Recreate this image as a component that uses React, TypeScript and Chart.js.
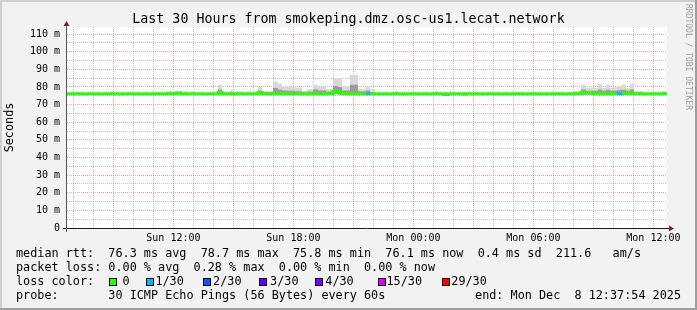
import React, { useEffect, useRef } from 'react';
import { Chart, registerables } from 'chart.js';

Chart.register(...registerables);

// ---------------- data ----------------
// minutes since graph start (Sun ~06:41, 30 h span); each value holds until the next entry
const sampleMinutes = [
  0, 129, 138, 297, 330, 342, 351, 363, 372, 384,
  453, 465, 474, 489, 498, 513, 525, 540, 549, 573,
  585, 618, 633, 645, 657, 684, 705, 720, 738, 753,
  777, 798, 813, 825, 849, 873, 897, 909, 924, 978,
  993, 1098, 1113, 1125, 1149, 1185, 1200, 1518, 1542, 1557,
  1578, 1593, 1605, 1617, 1629, 1644, 1650, 1665, 1677, 1689,
  1701, 1725, 1785, 1797, 1800,
];
// median rtt (ms)
const medianRtt = [
  76.1, 76.1, 76.1, 76.1, 76.5, 76.1, 76.1, 76.1, 76.1, 76.1,
  76.8, 76.1, 76.1, 76.1, 76.1, 76.1, 76.1, 76.1, 76.1, 76.8,
  76.1, 76.1, 76.3, 76.1, 76.1, 76.1, 76.1, 76.1, 76.1, 76.1,
  76.1, 77.5, 76.8, 76.1, 76.2, 76.1, 76.1, 76.1, 76.1, 76.1,
  76.1, 76.1, 76.1, 76.1, 76.1, 76.1, 76.1, 76.1, 76.8, 76.8,
  76.1, 76.1, 76.1, 76.1, 76.1, 76.1, 76.1, 76.7, 76.7, 76.1,
  76.1, 76.1, 76.1, 76.1, 76.1,
];
// slowest ping (top of the smoke, ms)
const pingMax = [
  76.6, 77.6, 76.6, 77.7, 77.7, 76.6, 77.5, 76.6, 77.5, 76.6,
  81.2, 77.5, 76.6, 78.4, 77.3, 77.4, 76.6, 77.4, 76.6, 80.3,
  77.8, 83.1, 81.8, 80.3, 79.9, 79.7, 77.8, 78.8, 81.2, 80.3,
  78.8, 85.0, 85.0, 80.3, 86.9, 79.0, 80.3, 78.8, 76.6, 77.6,
  76.6, 77.6, 76.6, 76.6, 76.6, 76.6, 76.6, 77.8, 81.2, 79.4,
  79.4, 81.8, 79.5, 81.2, 79.4, 79.9, 80.7, 81.2, 79.4, 81.8,
  77.8, 76.6, 77.8, 76.6, 76.6,
];
// upper part of the dense smoke (ms)
const pingUpper = [
  76.3, 76.8, 76.3, 76.8, 77.0, 76.3, 76.7, 76.3, 76.7, 76.3,
  78.5, 76.6, 76.3, 77.2, 76.6, 76.6, 76.3, 76.6, 76.3, 78.0,
  76.8, 79.4, 78.6, 78.0, 77.8, 77.6, 76.8, 77.4, 78.5, 78.0,
  77.4, 80.5, 80.0, 78.0, 81.2, 77.5, 78.0, 77.2, 76.3, 76.8,
  76.3, 76.8, 76.3, 76.3, 76.3, 76.3, 76.3, 76.8, 78.5, 77.8,
  77.8, 78.6, 77.8, 78.4, 77.8, 77.9, 78.2, 78.4, 77.8, 78.6,
  76.8, 76.3, 76.8, 76.3, 76.3,
];
// fastest ping (bottom of the smoke, ms)
const pingMin = [
  75.7, 75.7, 75.7, 75.7, 75.8, 75.7, 75.7, 75.7, 75.7, 75.7,
  75.6, 75.7, 75.7, 75.7, 75.7, 75.7, 75.7, 75.7, 75.7, 75.6,
  75.7, 75.6, 75.6, 75.6, 75.7, 75.7, 75.7, 75.7, 75.6, 75.6,
  75.7, 75.8, 75.6, 75.6, 75.5, 75.6, 75.6, 75.7, 75.7, 75.7,
  75.7, 75.7, 75.7, 74.8, 75.7, 75.1, 75.7, 75.7, 75.6, 75.6,
  75.6, 75.6, 75.6, 75.6, 75.6, 75.6, 75.6, 75.6, 75.6, 75.6,
  75.7, 75.7, 75.7, 75.7, 75.7,
];
// lost pings out of 30
const lossCount = [
  0, 0, 0, 0, 0, 0, 0, 0, 0, 0,
  0, 0, 0, 0, 0, 0, 0, 0, 0, 0,
  0, 0, 0, 0, 0, 0, 0, 0, 0, 0,
  0, 0, 0, 0, 0, 0, 1, 0, 0, 0,
  0, 0, 0, 0, 0, 0, 0, 0, 0, 0,
  0, 0, 0, 0, 0, 0, 1, 0, 0, 0,
  0, 0, 0, 0, 0,
];

const lossLegendLabels = ['0', '1/30', '2/30', '3/30', '4/30', '15/30', '29/30'];
const lossLegendThresholds = [0, 1, 2, 3, 4, 15, 29];
const lossLegendColors = ['#26ff00', '#00b8ff', '#0059ff', '#5e00ff', '#7e00ff', '#dd00ff', '#ff0000'];

const yTickValues = [0, 5, 10, 15, 20, 25, 30, 35, 40, 45, 50, 55, 60, 65, 70, 75, 80, 85, 90, 95, 100, 105, 110];
const xLabelHours = [12, 18, 24, 30, 36];
const xLabelTexts = ['Sun 12:00', 'Sun 18:00', 'Mon 00:00', 'Mon 06:00', 'Mon 12:00'];

const TITLE = 'Last 30 Hours from smokeping.dmz.osc-us1.lecat.network';
const STATS_RTT = 'median rtt:  76.3 ms avg  78.7 ms max  75.8 ms min  76.1 ms now  0.4 ms sd  211.6   am/s';
const STATS_LOSS = 'packet loss: 0.00 % avg  0.28 % max  0.00 % min  0.00 % now';
const LOSS_TITLE = 'loss color:';
const PROBE_TEXT = 'probe:       30 ICMP Echo Pings (56 Bytes) every 60s';
const END_TEXT = 'end: Mon Dec  8 12:37:54 2025';
const WATERMARK = 'RRDTOOL / TOBI OETIKER';

const GRAPH_START_HOUR = 6.68; // hours since Sun 00:00
const GRAPH_SPAN_HOURS = 30;
const Y_MAX = 114;

// ---------------- layout / style ----------------
const W = 697;
const H = 310;
const MONO = '"DejaVu Sans Mono", monospace';
const MINOR_GRID = 'rgba(140,140,140,0.5)';
const MAJOR_GRID = 'rgba(222,79,79,0.5)';
const lossBoxX = [108.7, 145.7, 202.7, 259.3, 315, 377.7, 441.7];
const lossTextX = [122.4, 155.4, 213.1, 270.1, 325.3, 386.5, 451.3];

function lossColor(count: number): string {
  let c = lossLegendColors[0];
  for (let i = 0; i < lossLegendThresholds.length; i++) {
    if (count >= lossLegendThresholds[i]) c = lossLegendColors[i];
  }
  return c;
}

const frameAndAxes = {
  id: 'rrdFrame',
  beforeDraw(chart: any) {
    const { ctx, chartArea: a } = chart;
    ctx.save();
    ctx.fillStyle = '#f2f2f2';
    ctx.fillRect(0, 0, W, H);
    ctx.fillStyle = '#cfcfcf';
    ctx.fillRect(0, 0, W, 2);
    ctx.fillRect(0, 0, 2, H);
    ctx.fillStyle = '#9e9e9e';
    ctx.fillRect(0, H - 2, W, 2);
    ctx.fillRect(W - 2, 0, 2, H);
    ctx.fillStyle = '#ffffff';
    ctx.fillRect(a.left, a.top, a.right - a.left, a.bottom - a.top);
    ctx.restore();
  },
  afterDraw(chart: any) {
    const { ctx, chartArea: a } = chart;
    ctx.save();
    ctx.lineWidth = 1;
    // x axis
    ctx.strokeStyle = '#1f1f1f';
    ctx.beginPath();
    ctx.moveTo(a.left - 4, a.bottom + 0.5);
    ctx.lineTo(a.right + 3, a.bottom + 0.5);
    ctx.stroke();
    // y axis
    ctx.strokeStyle = '#555555';
    ctx.beginPath();
    ctx.moveTo(a.left - 0.5, a.bottom + 4);
    ctx.lineTo(a.left - 0.5, a.top - 2);
    ctx.stroke();
    // arrows
    ctx.fillStyle = '#801f1f';
    ctx.beginPath();
    ctx.moveTo(a.right + 2, a.bottom - 2.5);
    ctx.lineTo(a.right + 7, a.bottom + 0.5);
    ctx.lineTo(a.right + 2, a.bottom + 3.5);
    ctx.closePath();
    ctx.fill();
    ctx.beginPath();
    ctx.moveTo(a.left - 3.5, a.top - 1);
    ctx.lineTo(a.left - 0.5, a.top - 6);
    ctx.lineTo(a.left + 2.5, a.top - 1);
    ctx.closePath();
    ctx.fill();
    ctx.restore();
  },
};

export default function App() {
  const canvasRef = useRef<HTMLCanvasElement>(null);

  useEffect(() => {
    document.body.style.margin = '0';
    const xs = sampleMinutes.map((m) => GRAPH_START_HOUR + m / 60);
    const pts = (arr: number[]) => arr.map((v, i) => ({ x: xs[i], y: v }));
    const chart = new Chart(canvasRef.current as HTMLCanvasElement, {
      type: 'line',
      data: {
        datasets: [
          {
            label: 'min',
            data: pts(pingMin),
            borderColor: 'transparent',
            borderWidth: 1,
            pointRadius: 0,
            stepped: true,
            fill: false,
            order: 5,
          },
          {
            label: 'max',
            data: pts(pingMax),
            borderColor: 'transparent',
            borderWidth: 1,
            backgroundColor: '#d9d9d9',
            pointRadius: 0,
            stepped: true,
            fill: 0,
            order: 4,
          },
          {
            label: 'upper',
            data: pts(pingUpper),
            borderColor: 'transparent',
            borderWidth: 1,
            backgroundColor: '#9c9c9c',
            pointRadius: 0,
            stepped: true,
            fill: 0,
            order: 3,
          },
          {
            label: 'median',
            data: pts(medianRtt),
            borderColor: lossLegendColors[0],
            borderWidth: 3,
            borderCapStyle: 'butt',
            borderJoinStyle: 'miter',
            pointRadius: 0,
            stepped: true,
            fill: false,
            order: 1,
            segment: {
              borderColor: (c: any) => lossColor(lossCount[c.p0DataIndex]),
            },
          } as any,
        ],
      },
      options: {
        animation: false,
        responsive: false,
        maintainAspectRatio: false,
        devicePixelRatio: 1,
        events: [],
        layout: { padding: { left: 0, right: 30, top: 27, bottom: 0 } },
        plugins: {
          legend: { display: false },
          tooltip: { enabled: false },
          title: { display: false },
        },
        scales: {
          x: {
            type: 'linear',
            min: GRAPH_START_HOUR,
            max: GRAPH_START_HOUR + GRAPH_SPAN_HOURS,
            afterBuildTicks: (s: any) => {
              const t: any[] = [];
              for (let h = Math.ceil(s.min); h <= Math.floor(s.max); h++) t.push({ value: h });
              s.ticks = t;
            },
            afterFit: (s: any) => {
              s.height = 82;
            },
            ticks: {
              autoSkip: false,
              maxRotation: 0,
              minRotation: 0,
              padding: 0,
              color: '#000000',
              font: { family: MONO, size: 10 },
              callback: (v: any) => {
                const i = xLabelHours.indexOf(Math.round(Number(v)));
                return i >= 0 ? xLabelTexts[i] : '';
              },
            },
            grid: {
              color: (c: any) => (c.tick && Math.round(c.tick.value) % 3 === 0 ? MAJOR_GRID : MINOR_GRID),
              lineWidth: 1,
              drawTicks: true,
              tickLength: 4,
              tickColor: 'transparent',
            },
            border: { display: false, dash: [1, 1] },
          } as any,
          y: {
            type: 'linear',
            min: 0,
            max: Y_MAX,
            afterBuildTicks: (s: any) => {
              s.ticks = yTickValues.map((v) => ({ value: v }));
            },
            afterFit: (s: any) => {
              s.width = 67;
            },
            ticks: {
              autoSkip: false,
              padding: 3,
              color: '#000000',
              font: { family: MONO, size: 10 },
              callback: (v: any) => {
                const n = Number(v);
                if (n % 10 !== 0) return '';
                return n === 0 ? '0' : `${n} m`;
              },
            },
            grid: {
              color: (c: any) => (c.tick && Math.round(c.tick.value) % 10 === 0 ? MAJOR_GRID : MINOR_GRID),
              lineWidth: 1,
              drawTicks: true,
              tickLength: 4,
              tickColor: 'transparent',
            },
            border: { display: false, dash: [1, 1] },
            title: {
              display: true,
              text: 'Seconds',
              color: '#000000',
              font: { family: MONO, size: 11.8 },
              padding: { top: 3, bottom: 0 },
            },
          } as any,
        },
      },
      plugins: [frameAndAxes],
    } as any);
    return () => chart.destroy();
  }, []);

  const rowStyle: React.CSSProperties = {
    position: 'absolute',
    left: 16,
    fontSize: 11.8,
    lineHeight: '14px',
    whiteSpace: 'pre',
    color: '#000',
  };
  // baseline = top + 11.08 for 11.8px DejaVu Sans Mono in a 14px line
  const rowTop = (baseline: number) => baseline - 11.08;

  return (
    <div style={{ position: 'relative', width: W, height: H, overflow: 'hidden', fontFamily: MONO }}>
      <canvas
        ref={canvasRef}
        width={W}
        height={H}
        style={{ position: 'absolute', left: 0, top: 0, width: W, height: H }}
      />
      <div
        style={{
          position: 'absolute',
          left: 0,
          top: 11.4,
          width: W,
          textAlign: 'center',
          fontSize: 13.3,
          lineHeight: '16px',
          whiteSpace: 'pre',
          color: '#000',
        }}
      >
        {TITLE}
      </div>
      <div
        style={{
          position: 'absolute',
          left: 684,
          top: 4,
          writingMode: 'vertical-rl',
          fontSize: 8,
          lineHeight: '9px',
          whiteSpace: 'pre',
          color: '#a0a0a0',
        }}
      >
        {WATERMARK}
      </div>
      <div style={{ ...rowStyle, top: rowTop(257) }}>{STATS_RTT}</div>
      <div style={{ ...rowStyle, top: rowTop(271) }}>{STATS_LOSS}</div>
      <div style={{ ...rowStyle, top: rowTop(285) }}>{LOSS_TITLE}</div>
      {lossLegendLabels.map((lab, i) => (
        <React.Fragment key={lab}>
          <div
            style={{
              position: 'absolute',
              left: lossBoxX[i],
              top: 278,
              width: 8,
              height: 8,
              boxSizing: 'border-box',
              border: '1px solid #000',
              background: lossLegendColors[i],
            }}
          />
          <div style={{ ...rowStyle, left: lossTextX[i], top: rowTop(285) }}>{lab}</div>
        </React.Fragment>
      ))}
      <div style={{ ...rowStyle, top: rowTop(299) }}>{PROBE_TEXT}</div>
      <div style={{ ...rowStyle, left: 'auto', right: 16, top: rowTop(299), textAlign: 'right' }}>{END_TEXT}</div>
    </div>
  );
}
